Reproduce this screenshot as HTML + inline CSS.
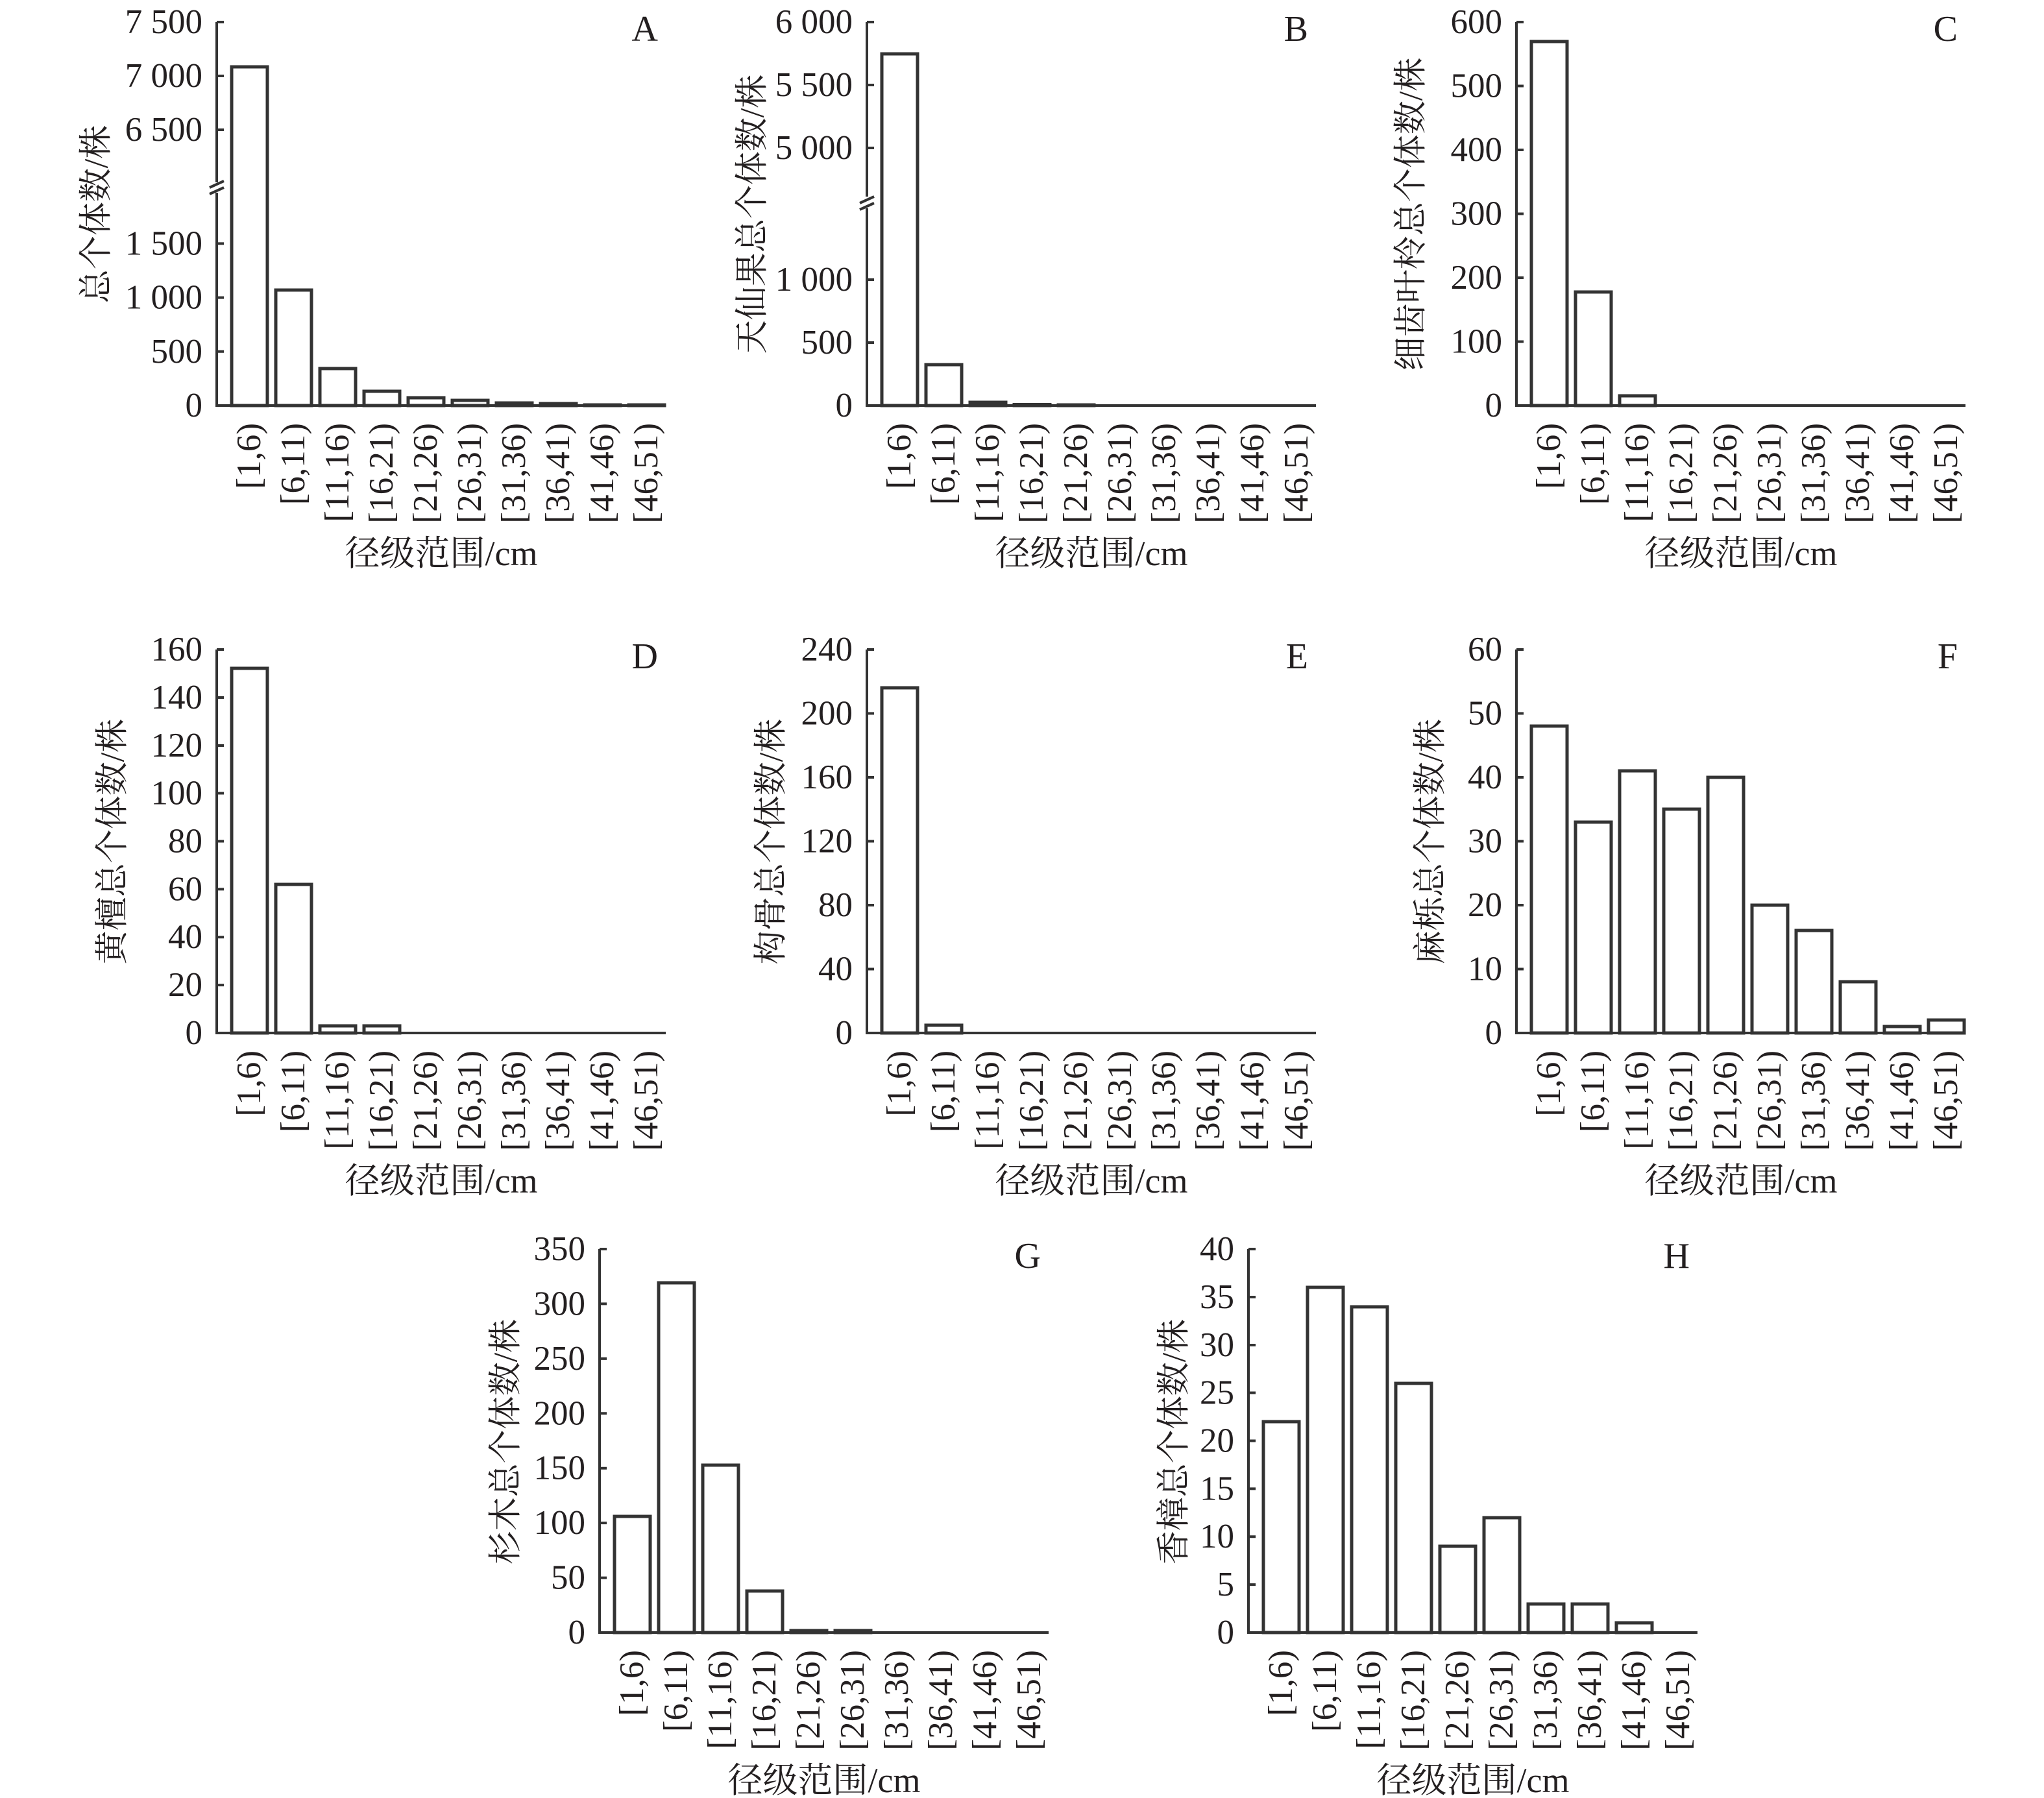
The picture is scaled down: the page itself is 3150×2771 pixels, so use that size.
<!DOCTYPE html>
<html><head><meta charset="utf-8"><style>
html,body{margin:0;padding:0;background:#fff;}
svg{display:block;}
text{font-family:"Liberation Serif","Noto Serif CJK SC","Noto Sans CJK SC",serif;fill:#231f20;}
.t{font-size:53px;text-anchor:end;dominant-baseline:central;}
.xl{font-size:53px;text-anchor:end;dominant-baseline:central;}
.yt{font-size:52px;text-anchor:middle;dominant-baseline:central;}
.xt{font-size:54px;text-anchor:middle;}
.lt{font-size:56px;text-anchor:end;}
.ax{stroke:#333;stroke-width:4;fill:none;}
.b{stroke:#333;stroke-width:5;fill:#fff;}
</style></head><body>
<svg width="3150" height="2771" viewBox="0 0 3150 2771" xmlns="http://www.w3.org/2000/svg">
<defs>
<g id="xl">
<text class="xl" transform="translate(50,27) rotate(-90)">[1,6)</text>
<text class="xl" transform="translate(118,27) rotate(-90)">[6,11)</text>
<text class="xl" transform="translate(186,27) rotate(-90)">[11,16)</text>
<text class="xl" transform="translate(254,27) rotate(-90)">[16,21)</text>
<text class="xl" transform="translate(322,27) rotate(-90)">[21,26)</text>
<text class="xl" transform="translate(390,27) rotate(-90)">[26,31)</text>
<text class="xl" transform="translate(458,27) rotate(-90)">[31,36)</text>
<text class="xl" transform="translate(526,27) rotate(-90)">[36,41)</text>
<text class="xl" transform="translate(594,27) rotate(-90)">[41,46)</text>
<text class="xl" transform="translate(662,27) rotate(-90)">[46,51)</text>
<text class="xt" x="346" y="246">径级范围/cm</text>
<line class="ax" x1="0" y1="0" x2="692" y2="0"/>
</g>
</defs>

<!-- A -->
<g transform="translate(334,625)">
<path class="ax" d="M0,2 V-328 M0,-344 V-591 M0,-591 H11 M0,-508 H11 M0,-425 H11 M0,-249.6 H11 M0,-166.4 H11 M0,-83.2 H11"/>
<path class="ax" d="M-11,-326 L11,-336 M-11,-336 L11,-346" />
<text class="t" x="-22" y="-591">7 500</text>
<text class="t" x="-22" y="-508">7 000</text>
<text class="t" x="-22" y="-425">6 500</text>
<text class="t" x="-22" y="-249.6">1 500</text>
<text class="t" x="-22" y="-166.4">1 000</text>
<text class="t" x="-22" y="-83.2">500</text>
<text class="t" x="-22" y="0">0</text>
<rect class="b" x="23" y="-522" width="55" height="522"/>
<rect class="b" x="91" y="-178" width="55" height="178"/>
<rect class="b" x="159" y="-57" width="55" height="57"/>
<rect class="b" x="227" y="-22" width="55" height="22"/>
<rect class="b" x="295" y="-12" width="55" height="12"/>
<rect class="b" x="363" y="-8" width="55" height="8"/>
<rect class="b" x="431" y="-4" width="55" height="4"/>
<rect class="b" x="499" y="-3" width="55" height="3"/>
<rect class="b" x="567" y="-1" width="55" height="1"/>
<rect class="b" x="635" y="-1" width="55" height="1"/>
<use href="#xl"/>
<text class="lt" x="680" y="-562">A</text>
</g>
<text class="yt" transform="translate(149,330) rotate(-90)">总个体数/株</text>

<!-- B -->
<g transform="translate(1336,625)">
<path class="ax" d="M0,2 V-304 M0,-322 V-591 M0,-591 H11 M0,-494 H11 M0,-397 H11 M0,-194 H11 M0,-97 H11"/>
<path class="ax" d="M-11,-302 L11,-312 M-11,-312 L11,-322" />
<text class="t" x="-22" y="-591">6 000</text>
<text class="t" x="-22" y="-494">5 500</text>
<text class="t" x="-22" y="-397">5 000</text>
<text class="t" x="-22" y="-194">1 000</text>
<text class="t" x="-22" y="-97">500</text>
<text class="t" x="-22" y="0">0</text>
<rect class="b" x="23" y="-542" width="55" height="542"/>
<rect class="b" x="91" y="-63" width="55" height="63"/>
<rect class="b" x="159" y="-5" width="55" height="5"/>
<rect class="b" x="227" y="-1.5" width="55" height="1.5"/>
<rect class="b" x="295" y="-1" width="55" height="1"/>
<use href="#xl"/>
<text class="lt" x="680" y="-562">B</text>
</g>
<text class="yt" transform="translate(1160,330) rotate(-90)">天仙果总个体数/株</text>

<!-- C -->
<g transform="translate(2337,625)">
<path class="ax" d="M0,2 V-591 M0,-591 H11 M0,-492.5 H11 M0,-394 H11 M0,-295.5 H11 M0,-197 H11 M0,-98.5 H11"/>
<text class="t" x="-22" y="-591">600</text>
<text class="t" x="-22" y="-492.5">500</text>
<text class="t" x="-22" y="-394">400</text>
<text class="t" x="-22" y="-295.5">300</text>
<text class="t" x="-22" y="-197">200</text>
<text class="t" x="-22" y="-98.5">100</text>
<text class="t" x="-22" y="0">0</text>
<rect class="b" x="23" y="-561" width="55" height="561"/>
<rect class="b" x="91" y="-175" width="55" height="175"/>
<rect class="b" x="159" y="-15" width="55" height="15"/>
<use href="#xl"/>
<text class="lt" x="680" y="-562">C</text>
</g>
<text class="yt" transform="translate(2175,330) rotate(-90)">细齿叶柃总个体数/株</text>

<!-- D -->
<g transform="translate(334,1592)">
<path class="ax" d="M0,2 V-591 M0,-591 H11 M0,-517 H11 M0,-443 H11 M0,-369.5 H11 M0,-295.5 H11 M0,-221.6 H11 M0,-147.8 H11 M0,-73.9 H11"/>
<text class="t" x="-22" y="-591">160</text>
<text class="t" x="-22" y="-517">140</text>
<text class="t" x="-22" y="-443">120</text>
<text class="t" x="-22" y="-369.5">100</text>
<text class="t" x="-22" y="-295.5">80</text>
<text class="t" x="-22" y="-221.6">60</text>
<text class="t" x="-22" y="-147.8">40</text>
<text class="t" x="-22" y="-73.9">20</text>
<text class="t" x="-22" y="0">0</text>
<rect class="b" x="23" y="-562" width="55" height="562"/>
<rect class="b" x="91" y="-229" width="55" height="229"/>
<rect class="b" x="159" y="-11" width="55" height="11"/>
<rect class="b" x="227" y="-11" width="55" height="11"/>
<use href="#xl"/>
<text class="lt" x="680" y="-562">D</text>
</g>
<text class="yt" transform="translate(174,1297) rotate(-90)">黄檀总个体数/株</text>

<!-- E -->
<g transform="translate(1336,1592)">
<path class="ax" d="M0,2 V-591 M0,-591 H11 M0,-492.5 H11 M0,-394 H11 M0,-295.5 H11 M0,-197 H11 M0,-98.5 H11"/>
<text class="t" x="-22" y="-591">240</text>
<text class="t" x="-22" y="-492.5">200</text>
<text class="t" x="-22" y="-394">160</text>
<text class="t" x="-22" y="-295.5">120</text>
<text class="t" x="-22" y="-197">80</text>
<text class="t" x="-22" y="-98.5">40</text>
<text class="t" x="-22" y="0">0</text>
<rect class="b" x="23" y="-532" width="55" height="532"/>
<rect class="b" x="91" y="-12" width="55" height="12"/>
<use href="#xl"/>
<text class="lt" x="680" y="-562">E</text>
</g>
<text class="yt" transform="translate(1189,1297) rotate(-90)">构骨总个体数/株</text>

<!-- F -->
<g transform="translate(2337,1592)">
<path class="ax" d="M0,2 V-591 M0,-591 H11 M0,-492.5 H11 M0,-394 H11 M0,-295.5 H11 M0,-197 H11 M0,-98.5 H11"/>
<text class="t" x="-22" y="-591">60</text>
<text class="t" x="-22" y="-492.5">50</text>
<text class="t" x="-22" y="-394">40</text>
<text class="t" x="-22" y="-295.5">30</text>
<text class="t" x="-22" y="-197">20</text>
<text class="t" x="-22" y="-98.5">10</text>
<text class="t" x="-22" y="0">0</text>
<rect class="b" x="23" y="-473" width="55" height="473"/>
<rect class="b" x="91" y="-325" width="55" height="325"/>
<rect class="b" x="159" y="-404" width="55" height="404"/>
<rect class="b" x="227" y="-345" width="55" height="345"/>
<rect class="b" x="295" y="-394" width="55" height="394"/>
<rect class="b" x="363" y="-197" width="55" height="197"/>
<rect class="b" x="431" y="-158" width="55" height="158"/>
<rect class="b" x="499" y="-79" width="55" height="79"/>
<rect class="b" x="567" y="-10" width="55" height="10"/>
<rect class="b" x="635" y="-20" width="55" height="20"/>
<use href="#xl"/>
<text class="lt" x="680" y="-562">F</text>
</g>
<text class="yt" transform="translate(2205,1297) rotate(-90)">麻栎总个体数/株</text>

<!-- G -->
<g transform="translate(924,2516)">
<path class="ax" d="M0,2 V-591 M0,-591 H11 M0,-506.6 H11 M0,-422.1 H11 M0,-337.7 H11 M0,-253.3 H11 M0,-168.9 H11 M0,-84.4 H11"/>
<text class="t" x="-22" y="-591">350</text>
<text class="t" x="-22" y="-506.6">300</text>
<text class="t" x="-22" y="-422.1">250</text>
<text class="t" x="-22" y="-337.7">200</text>
<text class="t" x="-22" y="-253.3">150</text>
<text class="t" x="-22" y="-168.9">100</text>
<text class="t" x="-22" y="-84.4">50</text>
<text class="t" x="-22" y="0">0</text>
<rect class="b" x="23" y="-179" width="55" height="179"/>
<rect class="b" x="91" y="-539" width="55" height="539"/>
<rect class="b" x="159" y="-258" width="55" height="258"/>
<rect class="b" x="227" y="-64" width="55" height="64"/>
<rect class="b" x="295" y="-3" width="55" height="3"/>
<rect class="b" x="363" y="-3" width="55" height="3"/>
<use href="#xl"/>
<text class="lt" x="680" y="-562">G</text>
</g>
<text class="yt" transform="translate(780,2222) rotate(-90)">杉木总个体数/株</text>

<!-- H -->
<g transform="translate(1924,2516)">
<path class="ax" d="M0,2 V-591 M0,-591 H11 M0,-517 H11 M0,-443 H11 M0,-369.5 H11 M0,-295.5 H11 M0,-221.6 H11 M0,-147.8 H11 M0,-73.9 H11"/>
<text class="t" x="-22" y="-591">40</text>
<text class="t" x="-22" y="-517">35</text>
<text class="t" x="-22" y="-443">30</text>
<text class="t" x="-22" y="-369.5">25</text>
<text class="t" x="-22" y="-295.5">20</text>
<text class="t" x="-22" y="-221.6">15</text>
<text class="t" x="-22" y="-147.8">10</text>
<text class="t" x="-22" y="-73.9">5</text>
<text class="t" x="-22" y="0">0</text>
<rect class="b" x="23" y="-325" width="55" height="325"/>
<rect class="b" x="91" y="-532" width="55" height="532"/>
<rect class="b" x="159" y="-502" width="55" height="502"/>
<rect class="b" x="227" y="-384" width="55" height="384"/>
<rect class="b" x="295" y="-133" width="55" height="133"/>
<rect class="b" x="363" y="-177" width="55" height="177"/>
<rect class="b" x="431" y="-44" width="55" height="44"/>
<rect class="b" x="499" y="-44" width="55" height="44"/>
<rect class="b" x="567" y="-15" width="55" height="15"/>
<use href="#xl"/>
<text class="lt" x="680" y="-562">H</text>
</g>
<text class="yt" transform="translate(1810,2222) rotate(-90)">香樟总个体数/株</text>
</svg>
</body></html>
